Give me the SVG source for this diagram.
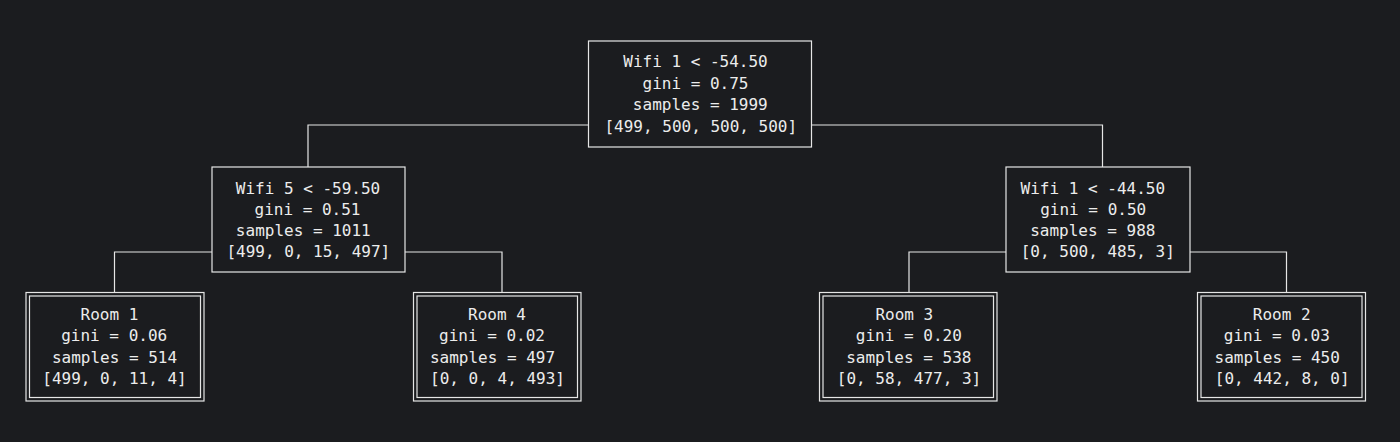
<svg xmlns="http://www.w3.org/2000/svg" width="1400" height="442" viewBox="0 0 1400 442">
<style>
.box{fill:none;stroke:#e6e6e6;stroke-width:1.2}
.edge{fill:none;stroke:#e6e6e6;stroke-width:1.2}
text{font-family:"DejaVu Sans Mono","Liberation Mono",monospace;font-size:16px;fill:#ececec;text-anchor:middle}
</style>
<rect x="0" y="0" width="1400" height="442" fill="#1b1c1f"/>
<g id="connectors">
<polyline class="edge" points="588,125 308,125 308,167"/>
<polyline class="edge" points="812,125 1102.5,125 1102.5,167"/>
<polyline class="edge" points="212,252 114.5,252 114.5,292"/>
<polyline class="edge" points="405,252 502,252 502,292"/>
<polyline class="edge" points="1006,252 909,252 909,292"/>
<polyline class="edge" points="1190,252 1286.5,252 1286.5,292"/>
</g>
<g id="root">
<rect class="box" x="588.5" y="41" width="223" height="106"/>
<text x="695.5" y="67">Wifi 1 &lt; -54.50</text>
<text x="695.5" y="89">gini = 0.75</text>
<text x="700.3" y="110">samples = 1999</text>
<text x="700.8" y="131.5">[499, 500, 500, 500]</text>
</g>
<g id="wifi5">
<rect class="box" x="212" y="167" width="193" height="105"/>
<text x="308" y="194">Wifi 5 &lt; -59.50</text>
<text x="307.5" y="215">gini = 0.51</text>
<text x="303.3" y="236">samples = 1011</text>
<text x="308.3" y="257">[499, 0, 15, 497]</text>
</g>
<g id="wifi1b">
<rect class="box" x="1006" y="167" width="184" height="105"/>
<text x="1092.8" y="194">Wifi 1 &lt; -44.50</text>
<text x="1093.2" y="215">gini = 0.50</text>
<text x="1092.8" y="236">samples = 988</text>
<text x="1097.8" y="257">[0, 500, 485, 3]</text>
</g>
<g id="room1">
<rect class="box" x="26" y="292.5" width="178" height="108.5"/>
<rect class="box" x="29.5" y="296" width="171" height="101.5"/>
<text x="109.5" y="320">Room 1</text>
<text x="114.2" y="341">gini = 0.06</text>
<text x="114.5" y="362.5">samples = 514</text>
<text x="114.5" y="384">[499, 0, 11, 4]</text>
</g>
<g id="room4">
<rect class="box" x="413.5" y="292.5" width="167.5" height="108.5"/>
<rect class="box" x="417" y="296" width="160.5" height="101.5"/>
<text x="497" y="320">Room 4</text>
<text x="492" y="341">gini = 0.02</text>
<text x="492.5" y="362.5">samples = 497</text>
<text x="497.5" y="384">[0, 0, 4, 493]</text>
</g>
<g id="room3">
<rect class="box" x="819.5" y="292.5" width="177.5" height="108.5"/>
<rect class="box" x="823" y="296" width="170.5" height="101.5"/>
<text x="904.3" y="320">Room 3</text>
<text x="908.8" y="341">gini = 0.20</text>
<text x="908.8" y="362.5">samples = 538</text>
<text x="909" y="384">[0, 58, 477, 3]</text>
</g>
<g id="room2">
<rect class="box" x="1197.5" y="292.5" width="168" height="108.5"/>
<rect class="box" x="1201" y="296" width="161" height="101.5"/>
<text x="1281.7" y="320">Room 2</text>
<text x="1276.8" y="341">gini = 0.03</text>
<text x="1277.2" y="362.5">samples = 450</text>
<text x="1282.2" y="384">[0, 442, 8, 0]</text>
</g>
</svg>
